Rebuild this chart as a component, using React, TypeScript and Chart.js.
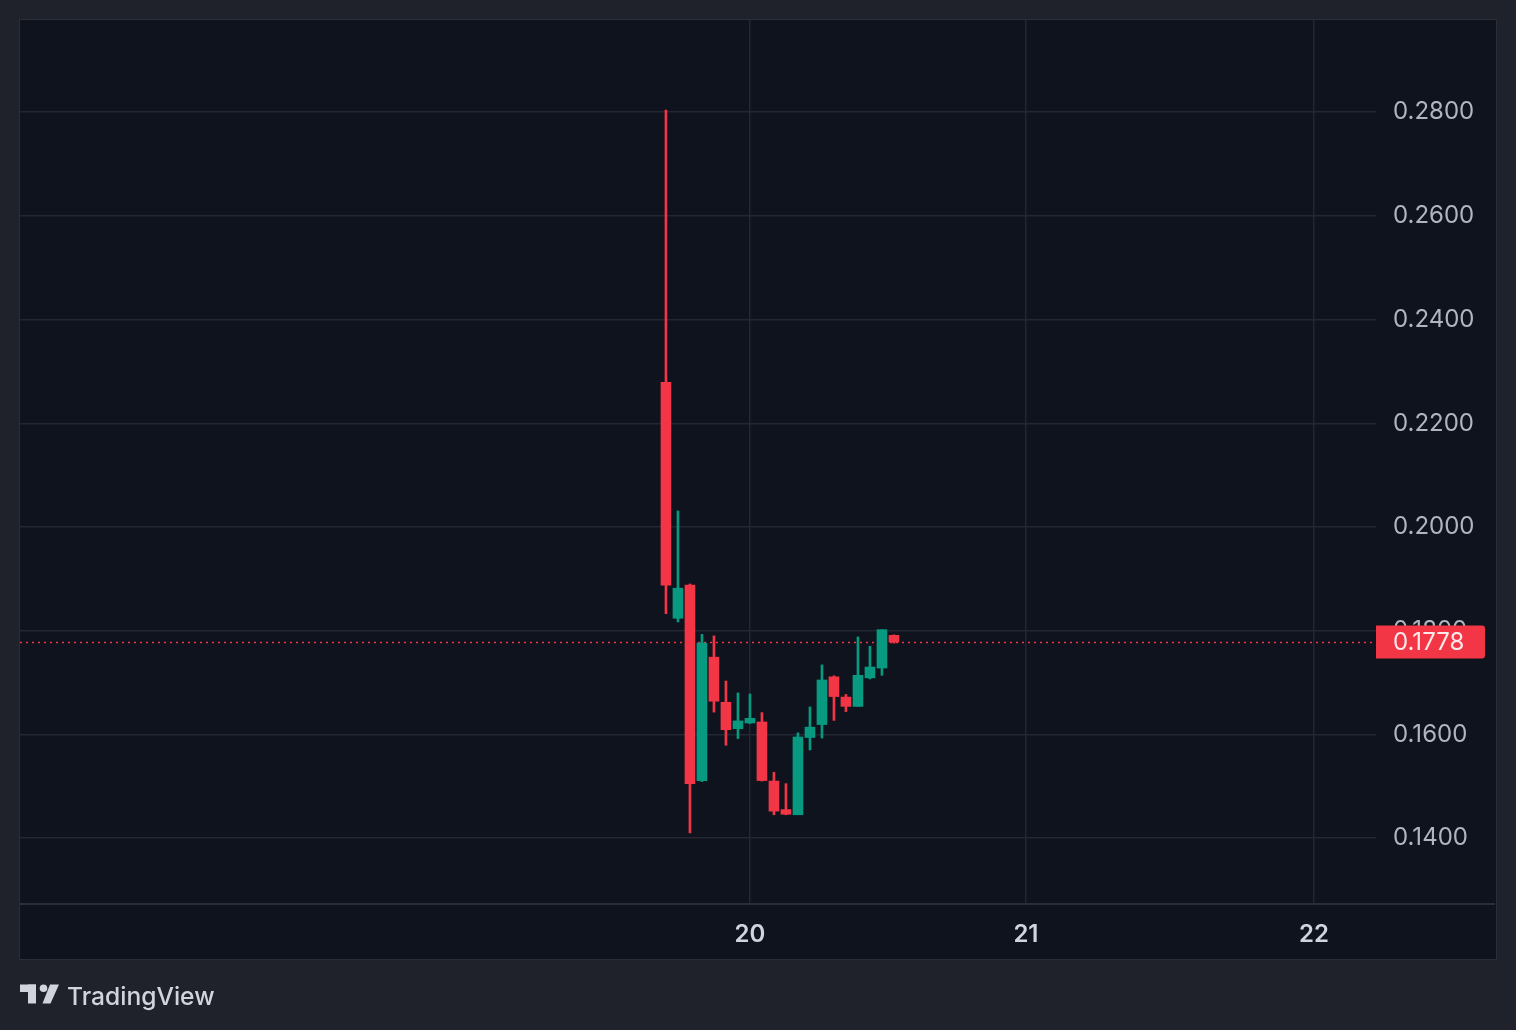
import React, { useEffect, useRef } from 'react';
import { Chart, registerables } from 'chart.js';

Chart.register(...registerables);

// Hourly candles (index 7 = day 20, 00:00)
const OPEN = [0.2279, 0.1824, 0.1888, 0.1511, 0.1749, 0.1662, 0.1611, 0.1622, 0.1624, 0.1510, 0.1455, 0.1445, 0.1594, 0.1619, 0.1711, 0.1672, 0.1654, 0.1709, 0.1728, 0.1791];
const HIGH = [0.2804, 0.2031, 0.1890, 0.1793, 0.1790, 0.1703, 0.1680, 0.1678, 0.1642, 0.1527, 0.1505, 0.1603, 0.1653, 0.1734, 0.1713, 0.1677, 0.1788, 0.1770, 0.1802, 0.1792];
const LOW = [0.1833, 0.1817, 0.1410, 0.1509, 0.1643, 0.1579, 0.1592, 0.1621, 0.1510, 0.1445, 0.1445, 0.1445, 0.1570, 0.1593, 0.1627, 0.1644, 0.1654, 0.1707, 0.1714, 0.1776];
const CLOSE = [0.1888, 0.1882, 0.1505, 0.1776, 0.1664, 0.1609, 0.1626, 0.1631, 0.1511, 0.1452, 0.1446, 0.1595, 0.1614, 0.1705, 0.1673, 0.1654, 0.1714, 0.1730, 0.1802, 0.1778];

const X_TICK_POS = [7, 30, 54];
const X_TICK_LABELS = ['20', '21', '22'];
const Y_TICKS = [0.14, 0.16, 0.18, 0.2, 0.22, 0.24, 0.26, 0.28];
const LAST_PRICE = 0.1778;

const UP = '#089981';
const DOWN = '#f23645';
const GRID = '#232733';
const FONT = 'Inter, "Noto Sans", sans-serif';

export default function App() {
  const ref = useRef<HTMLCanvasElement | null>(null);

  useEffect(() => {
    const canvas = ref.current;
    if (!canvas) return;
    const idx = OPEN.map((_, i) => i);
    const colors = idx.map((i) => (CLOSE[i] >= OPEN[i] ? UP : DOWN));
    const wickData = idx.map((i) => ({ x: i, y: [LOW[i], HIGH[i]] }));
    const bodyData = idx.map((i) => ({ x: i, y: [Math.min(OPEN[i], CLOSE[i]), Math.max(OPEN[i], CLOSE[i])] }));

    const pricePlugin = {
      id: 'priceLine',
      beforeDatasetsDraw(chart: any) {
        const { ctx, chartArea } = chart;
        const y = Math.round(chart.scales.y.getPixelForValue(LAST_PRICE)) + 0.5;
        ctx.save();
        ctx.strokeStyle = DOWN;
        ctx.lineWidth = 1.5;
        ctx.setLineDash([2, 4]);
        ctx.beginPath();
        ctx.moveTo(chartArea.left, y);
        ctx.lineTo(chartArea.right, y);
        ctx.stroke();
        ctx.restore();
      },
      afterDraw(chart: any) {
        const { ctx, chartArea } = chart;
        // bottom separator
        ctx.save();
        ctx.strokeStyle = '#2a2e39';
        ctx.lineWidth = 2;
        ctx.beginPath();
        ctx.moveTo(20, chartArea.bottom);
        ctx.lineTo(1495, chartArea.bottom);
        ctx.stroke();
        // price label
        const y = chart.scales.y.getPixelForValue(LAST_PRICE);
        const x0 = chartArea.right;
        const x1 = 1485;
        const h = 33;
        const top = y - h / 2;
        const r = 3;
        ctx.fillStyle = DOWN;
        ctx.beginPath();
        ctx.moveTo(x0, top);
        ctx.lineTo(x1 - r, top);
        ctx.quadraticCurveTo(x1, top, x1, top + r);
        ctx.lineTo(x1, top + h - r);
        ctx.quadraticCurveTo(x1, top + h, x1 - r, top + h);
        ctx.lineTo(x0, top + h);
        ctx.closePath();
        ctx.fill();
        ctx.fillStyle = '#fde8ea';
        ctx.font = `24px ${FONT}`;
        ctx.textAlign = 'left';
        ctx.textBaseline = 'middle';
        ctx.fillText(LAST_PRICE.toFixed(4), 1393, y + 1);
        ctx.restore();
      },
    };

    const chart = new Chart(canvas, {
      type: 'bar',
      data: {
        datasets: [
          { data: wickData as any, backgroundColor: colors, barThickness: 2, grouped: false, borderWidth: 0, order: 2 } as any,
          { data: bodyData as any, backgroundColor: colors, barThickness: 10, grouped: false, borderWidth: 0, order: 1 } as any,
        ],
      },
      options: {
        responsive: false,
        animation: false,
        devicePixelRatio: 1,
        layout: { padding: { left: 20, top: 20, right: 21, bottom: 72 } },
        plugins: { legend: { display: false }, tooltip: { enabled: false } },
        scales: {
          x: {
            type: 'linear',
            position: 'bottom',
            min: -53.83,
            max: 59.17,
            offset: false,
            afterBuildTicks: (s: any) => {
              s.ticks = X_TICK_POS.map((v) => ({ value: v }));
            },
            afterFit: (s: any) => {
              s.height = 54;
              s.paddingLeft = 0;
              s.paddingRight = 0;
            },
            ticks: {
              autoSkip: false,
              maxRotation: 0,
              padding: 16,
              color: '#d1d4dc',
              font: { family: FONT, size: 24, weight: '600' as any },
              callback: (_v: any, i: number) => X_TICK_LABELS[i],
            },
            grid: { color: GRID, drawTicks: false, offset: false, lineWidth: 1.5 },
            border: { display: false },
          },
          y: {
            position: 'right',
            min: 0.12729,
            max: 0.29779,
            afterBuildTicks: (s: any) => {
              s.ticks = Y_TICKS.map((v) => ({ value: v }));
            },
            afterFit: (s: any) => {
              s.width = 119;
              s.paddingTop = 0;
              s.paddingBottom = 0;
            },
            ticks: {
              padding: 17,
              color: '#b2b5be',
              font: { family: FONT, size: 24 },
              callback: (v: any) => Number(v).toFixed(4),
            },
            grid: { color: GRID, drawTicks: false, lineWidth: 1.5 },
            border: { display: false },
          },
        },
      } as any,
      plugins: [pricePlugin],
    });
    return () => chart.destroy();
  }, []);

  return (
    <div style={{ position: 'fixed', left: 0, top: 0, width: 1516, height: 1030, background: '#1f222b', overflow: 'hidden' }}>
      <div
        style={{
          position: 'absolute',
          left: 19,
          top: 19,
          width: 1478,
          height: 941,
          boxSizing: 'border-box',
          border: '1px solid #2a2e39',
          background: '#0e131d',
        }}
      />
      <canvas ref={ref} width={1516} height={1030} style={{ position: 'absolute', left: 0, top: 0, width: 1516, height: 1030 }} />
      <svg width={300} height={60} style={{ position: 'absolute', left: 0, top: 970 }} viewBox="0 970 300 60">
        <g fill="#d1d4dc">
          <rect x={20} y={984.5} width={16} height={7.5} />
          <rect x={28} y={984.5} width={8} height={19} />
          <circle cx={43.5} cy={988.2} r={3.8} />
          <polygon points="50,984.5 59,984.5 50.5,1003.5 42.5,1003.5" />
          <text x={67} y={1005} fontFamily={FONT} fontSize={24.6} fontWeight={500}>
            TradingView
          </text>
        </g>
      </svg>
    </div>
  );
}
